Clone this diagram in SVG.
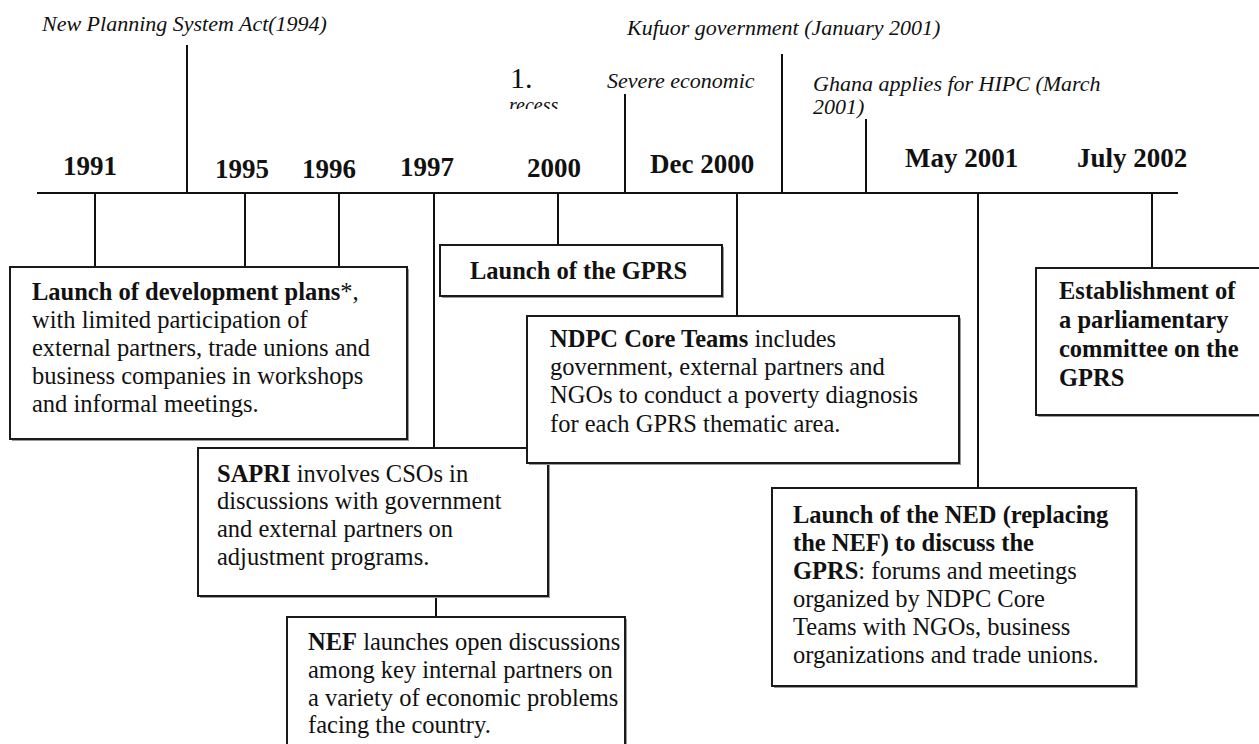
<svg xmlns="http://www.w3.org/2000/svg" width="1259" height="744" viewBox="0 0 1259 744">
<defs>
<style>
.ln{stroke:#111;stroke-width:2;fill:none}
.bx{fill:#fff;stroke:#1a1a1a;stroke-width:2}
.sh{fill:#9a9a9a}
.t{font-family:"Liberation Serif","Times New Roman",serif;font-size:24.5px;fill:#111}
.b{font-weight:bold}
.yr{font-family:"Liberation Serif","Times New Roman",serif;font-size:27px;font-weight:bold;fill:#111}
.it{font-family:"Liberation Serif","Times New Roman",serif;font-size:22px;font-style:italic;fill:#111}
</style>
<clipPath id="recclip"><rect x="500" y="95" width="80" height="14"/></clipPath>
</defs>
<rect width="1259" height="744" fill="#fff"/>

<g id="connectors">
<line class="ln" x1="37" y1="193" x2="1178" y2="193"/>
<line class="ln" x1="187" y1="45" x2="187" y2="193"/>
<line class="ln" x1="625" y1="94" x2="625" y2="193"/>
<line class="ln" x1="782" y1="54" x2="782" y2="193"/>
<line class="ln" x1="866" y1="119" x2="866" y2="193"/>
<line class="ln" x1="95" y1="193" x2="95" y2="267"/>
<line class="ln" x1="245" y1="193" x2="245" y2="267"/>
<line class="ln" x1="339" y1="193" x2="339" y2="267"/>
<line class="ln" x1="434" y1="193" x2="434" y2="448"/>
<line class="ln" x1="558" y1="193" x2="558" y2="245"/>
<line class="ln" x1="737" y1="193" x2="737" y2="316"/>
<line class="ln" x1="978" y1="193" x2="978" y2="488"/>
<line class="ln" x1="1152" y1="193" x2="1152" y2="268"/>
<line class="ln" x1="436" y1="596" x2="436" y2="617"/>
</g>

<g id="labels">
<text class="it" x="42" y="31">New Planning System Act(1994)</text>
<text class="it" x="627" y="35">Kufuor government (January 2001)</text>
<text x="510" y="88" font-family="Liberation Serif, serif" font-size="30" fill="#111">1.</text>
<text x="509" y="112" clip-path="url(#recclip)" font-family="Liberation Serif, serif" font-size="20" font-style="italic" fill="#111">recess</text>
<text class="it" x="607" y="88">Severe economic</text>
<text class="it" x="813" y="91">Ghana applies for HIPC (March</text>
<text class="it" x="813" y="114">2001)</text>
<text class="yr" x="63" y="175">1991</text>
<text class="yr" x="215" y="178">1995</text>
<text class="yr" x="302" y="178">1996</text>
<text class="yr" x="400" y="176">1997</text>
<text class="yr" x="527" y="177">2000</text>
<text class="yr" x="650" y="173">Dec 2000</text>
<text class="yr" x="905" y="167">May 2001</text>
<text class="yr" x="1077" y="167">July 2002</text>
</g>

<g id="node-devplans">
<rect class="sh" x="12" y="269" width="397" height="172"/>
<rect class="bx" x="10" y="267" width="397" height="172"/>
<text class="t" x="32" y="300"><tspan class="b">Launch of development plans</tspan>*,</text>
<text class="t" x="32" y="328">with limited participation of</text>
<text class="t" x="32" y="356">external partners, trade unions and</text>
<text class="t" x="32" y="384">business companies in workshops</text>
<text class="t" x="32" y="412">and informal meetings.</text>
</g>

<g id="node-gprs">
<rect class="sh" x="442" y="247" width="282" height="51"/>
<rect class="bx" x="440" y="245" width="282" height="51"/>
<text class="t b" x="470" y="279">Launch of the GPRS</text>
</g>

<g id="node-sapri">
<rect class="sh" x="200" y="450" width="350" height="148"/>
<rect class="bx" x="198" y="448" width="350" height="148"/>
<text class="t" x="217" y="482"><tspan class="b">SAPRI</tspan> involves CSOs in</text>
<text class="t" x="217" y="509">discussions with government</text>
<text class="t" x="217" y="537">and external partners on</text>
<text class="t" x="217" y="565">adjustment programs.</text>
</g>

<g id="node-ndpc">
<rect class="sh" x="529" y="318" width="432" height="147"/>
<rect class="bx" x="527" y="316" width="432" height="147"/>
<text class="t" x="550" y="347"><tspan class="b">NDPC Core Teams</tspan> includes</text>
<text class="t" x="550" y="375">government, external partners and</text>
<text class="t" x="550" y="403">NGOs to conduct a poverty diagnosis</text>
<text class="t" x="550" y="432">for each GPRS thematic area.</text>
</g>

<g id="node-nef">
<rect class="sh" x="289" y="619" width="338" height="140"/>
<rect class="bx" x="287" y="617" width="338" height="140"/>
<text class="t" x="308" y="650"><tspan class="b">NEF</tspan> launches open discussions</text>
<text class="t" x="308" y="678">among key internal partners on</text>
<text class="t" x="308" y="706">a variety of economic problems</text>
<text class="t" x="308" y="733">facing the country.</text>
</g>

<g id="node-ned">
<rect class="sh" x="774" y="490" width="364" height="198"/>
<rect class="bx" x="772" y="488" width="364" height="198"/>
<text class="t b" x="793" y="523">Launch of the NED (replacing</text>
<text class="t b" x="793" y="551">the NEF) to discuss the</text>
<text class="t" x="793" y="579"><tspan class="b">GPRS</tspan>: forums and meetings</text>
<text class="t" x="793" y="607">organized by NDPC Core</text>
<text class="t" x="793" y="635">Teams with NGOs, business</text>
<text class="t" x="793" y="663">organizations and trade unions.</text>
</g>

<g id="node-parliament">
<rect class="sh" x="1038" y="270" width="240" height="147"/>
<rect class="bx" x="1036" y="268" width="240" height="147"/>
<text class="t b" x="1059" y="299">Establishment of</text>
<text class="t b" x="1059" y="328">a parliamentary</text>
<text class="t b" x="1059" y="357">committee on the</text>
<text class="t b" x="1059" y="386">GPRS</text>
</g>
</svg>
